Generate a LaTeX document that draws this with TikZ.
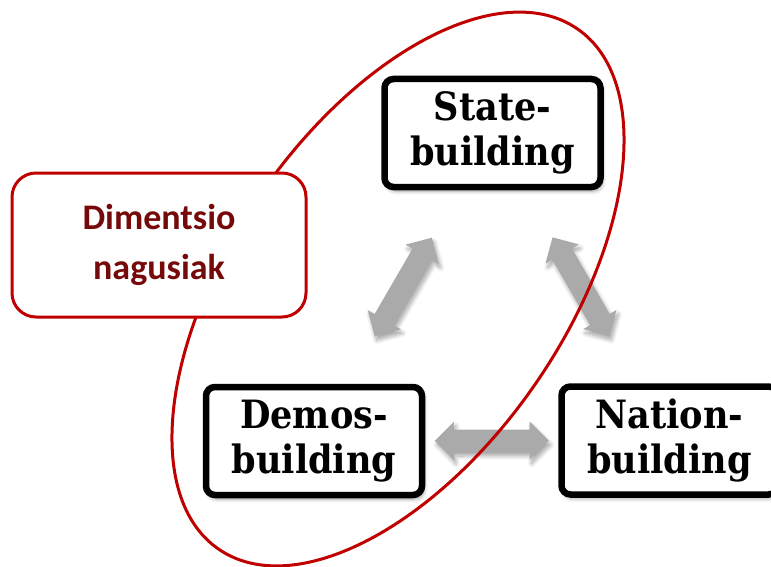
\documentclass[tikz,border=0pt]{standalone}
\usepackage{fontspec}
\setmainfont{DejaVu Serif Condensed}
\newfontfamily\labelsans{Carlito}
\usetikzlibrary{shapes.arrows,shadows.blur}
\definecolor{ringred}{RGB}{192,0,0}
\definecolor{labelred}{RGB}{118,10,10}
\definecolor{arrowgray}{RGB}{170,170,170}
\tikzset{
  softshadow/.style={blur shadow={shadow xshift=2pt, shadow yshift=-4pt,
      shadow blur radius=4pt, shadow blur steps=8, shadow opacity=35}},
  stagebox/.style={draw=black, line width=6.5pt, rounded corners=9pt, fill=white,
    minimum width=216pt, minimum height=108pt, inner sep=0pt, align=center,
    font=\fontsize{39}{45}\selectfont\bfseries, softshadow},
  linkarrow/.style={double arrow, fill=arrowgray, draw=none, sloped,
    minimum height=114pt, double arrow head extend=8pt,
    inner xsep=0pt, inner ysep=11pt, softshadow},
  notebox/.style={draw=ringred, line width=3pt, rounded corners=24pt, fill=white,
    minimum width=294pt, minimum height=144pt, inner sep=0pt, align=center,
    text=labelred, font=\labelsans\fontsize{36}{50}\selectfont\bfseries},
  ring/.style={draw=ringred, line width=3pt}
}
\begin{document}
\begin{tikzpicture}[x=1pt, y=-1pt]
  \useasboundingbox (0,0) rectangle (771,567);
  \clip (0,0) rectangle (771,567);

  % the three dimensions
  \coordinate (sc) at (492.5,133);
  \coordinate (dc) at (314,441);
  \coordinate (nc) at (669.5,440.5);

  % two-way links between the dimensions
  \path (dc) -- (sc) node[linkarrow, midway] (ds) {};
  \path (sc) -- (nc) node[linkarrow, midway] (sn) {};
  \path (dc) -- (nc) node[linkarrow, midway] (dn) {};

  % grouping ring
  \draw[ring, rotate around={55.4:(398,289)}] (398,289) ellipse [x radius=316, y radius=167];

  \node[stagebox] (state)  at (sc) {State-\\building};
  \node[stagebox] (demos)  at (dc) {Demos-\\building};
  \node[stagebox] (nation) at (nc) {Nation-\\building};

  \node[notebox] (main) at (159,245) {Dimentsio\\nagusiak};
\end{tikzpicture}
\end{document}
